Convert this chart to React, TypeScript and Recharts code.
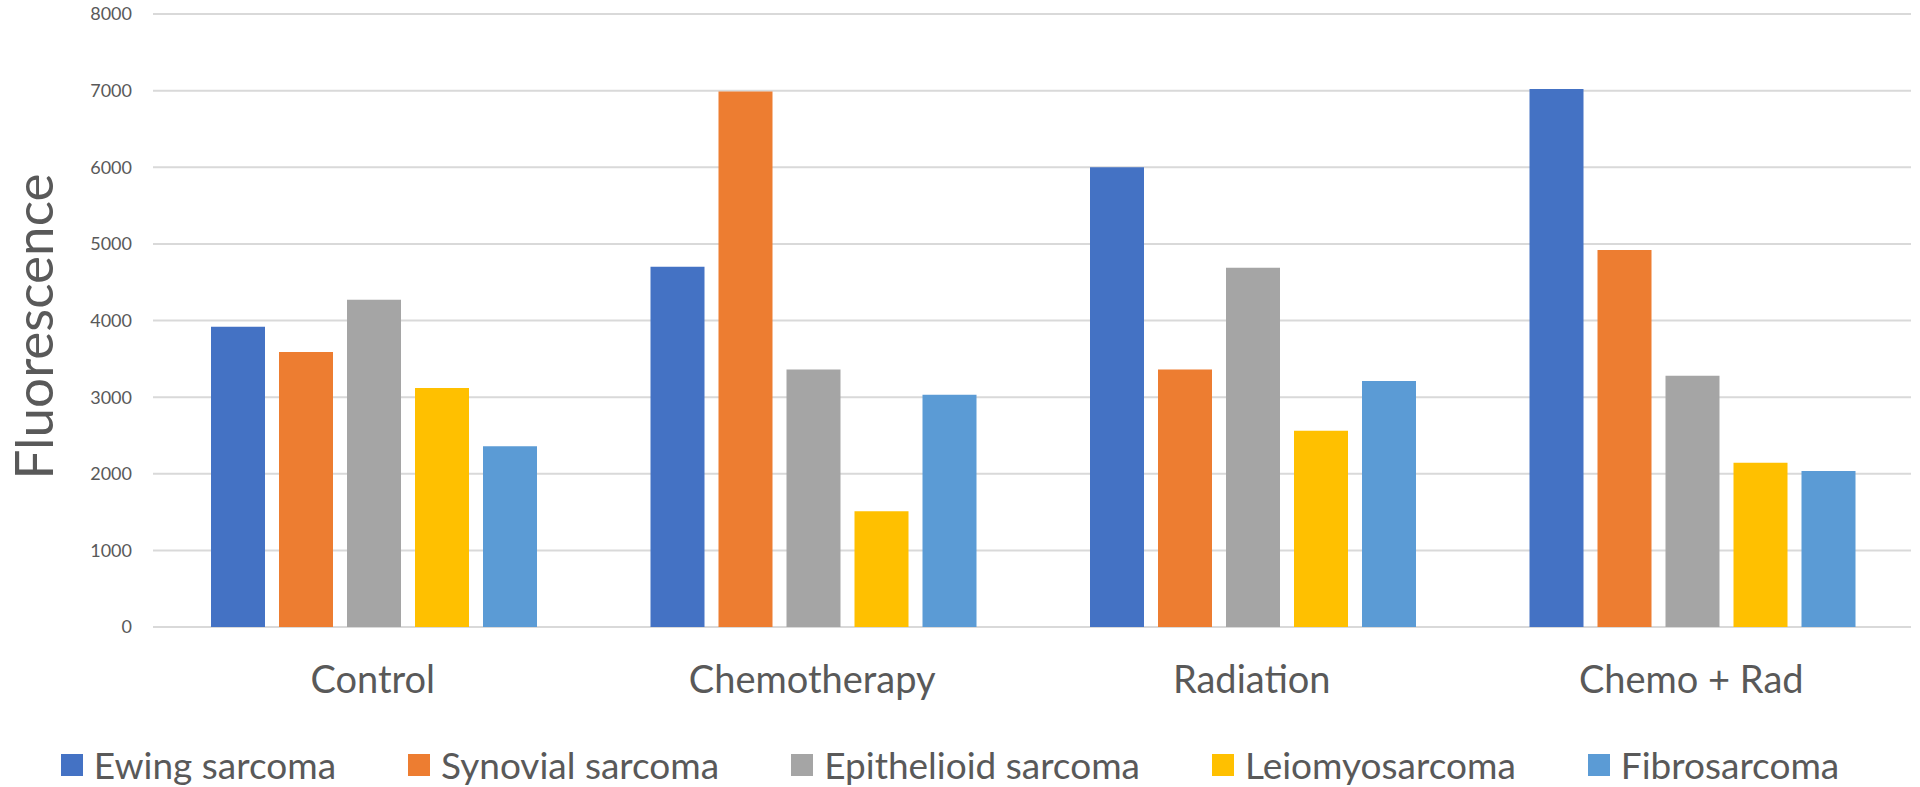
import { BarChart, Bar, XAxis, YAxis, CartesianGrid, Label } from 'recharts';

const categories = ['Control', 'Chemotherapy', 'Radiation', 'Chemo + Rad'];
const ewing = [3920, 4700, 6000, 7020];
const synovial = [3590, 6990, 3360, 4920];
const epithelioid = [4270, 3360, 4690, 3280];
const leiomyo = [3120, 1510, 2560, 2145];
const fibro = [2360, 3030, 3210, 2035];
const yTicks = [0, 1000, 2000, 3000, 4000, 5000, 6000, 7000, 8000];

const series = [
  { key: 'ewing', name: 'Ewing sarcoma', color: '#4472C4', values: ewing },
  { key: 'synovial', name: 'Synovial sarcoma', color: '#ED7D31', values: synovial },
  { key: 'epithelioid', name: 'Epithelioid sarcoma', color: '#A5A5A5', values: epithelioid },
  { key: 'leiomyo', name: 'Leiomyosarcoma', color: '#FFC000', values: leiomyo },
  { key: 'fibro', name: 'Fibrosarcoma', color: '#5B9BD5', values: fibro },
];

const chartData = categories.map((cat, i) => {
  const row: Record<string, string | number> = { name: cat };
  series.forEach(s => { row[s.key] = s.values[i]; });
  return row;
});

const FONT = 'Lato, "Open Sans", sans-serif';
const TEXT = '#595959';

function CategoryTick(props: any) {
  const { x, y, payload } = props;
  return (
    <text x={x} y={y + 58} textAnchor="middle" fill={TEXT} fontSize={38} fontFamily={FONT}>
      {payload.value}
    </text>
  );
}

// rotated axis title, baseline kept far enough right so the glyph box stays on the page
function YLabel(props: any) {
  const vb = props.viewBox;
  const bx = vb.x + 53;
  const cy = vb.y + vb.height / 2 + 6;
  return (
    <text
      x={bx}
      y={cy}
      transform={`rotate(-90, ${bx}, ${cy})`}
      textAnchor="middle"
      fill={TEXT}
      fontSize={53}
      fontFamily={FONT}
    >
      Fluorescence
    </text>
  );
}

export default function App() {
  return (
    <div style={{ position: 'absolute', left: 0, top: 0, width: 1920, height: 787, background: '#fff' }}>
      <BarChart
        width={1920}
        height={787}
        data={chartData}
        margin={{ top: 14, right: 9, left: 0, bottom: 60 }}
        barCategoryGap={58}
        barGap={14}
      >
        <CartesianGrid vertical={false} stroke="#d9d9d9" strokeWidth={2} />
        <XAxis
          dataKey="name"
          axisLine={false}
          tickLine={false}
          height={100}
          tick={<CategoryTick />}
          interval={0}
        />
        <YAxis
          width={153}
          domain={[0, 8000]}
          ticks={yTicks}
          axisLine={false}
          tickLine={false}
          tickMargin={15}
          tick={{ fill: TEXT, fontSize: 18, fontFamily: FONT }}
          interval={0}
        >
          <Label content={<YLabel />} />
        </YAxis>
        {series.map(s => (
          <Bar key={s.key} dataKey={s.key} name={s.name} fill={s.color} isAnimationActive={false} />
        ))}
      </BarChart>
      <div
        style={{
          position: 'absolute',
          left: 0,
          top: 743,
          width: 1900,
          display: 'flex',
          justifyContent: 'center',
          alignItems: 'center',
          gap: 72,
          fontFamily: FONT,
          fontSize: 37,
          color: TEXT,
          lineHeight: '44px',
        }}
      >
        {series.map(s => (
          <div key={s.key} style={{ display: 'flex', alignItems: 'center' }}>
            <span style={{ display: 'inline-block', width: 22, height: 22, background: s.color, marginRight: 11 }} />
            <span>{s.name}</span>
          </div>
        ))}
      </div>
    </div>
  );
}
